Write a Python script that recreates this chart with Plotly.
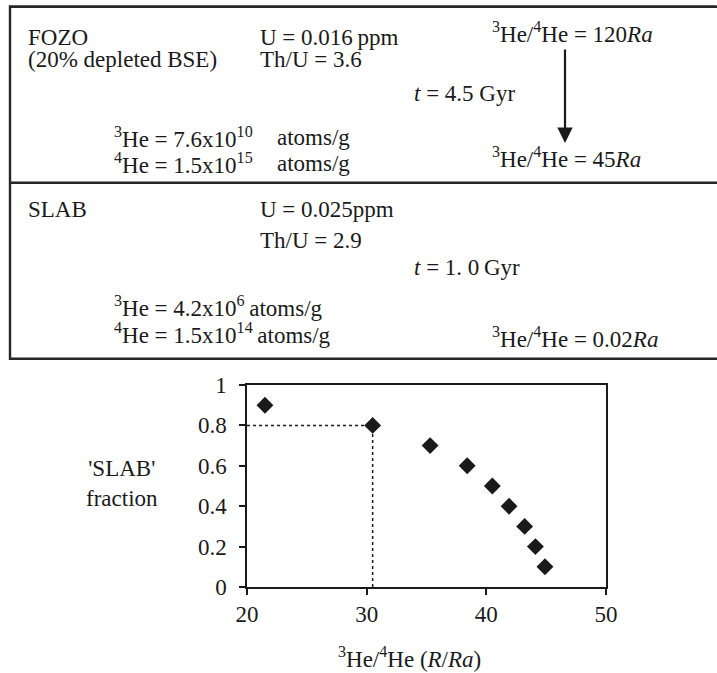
import plotly.graph_objects as go

# ---- data ----
he_ratio = [21.5, 30.5, 35.3, 38.4, 40.5, 41.9, 43.2, 44.1, 44.9]
slab_fraction = [0.9, 0.8, 0.7, 0.6, 0.5, 0.4, 0.3, 0.2, 0.1]
x_ticks = [20, 30, 40, 50]
y_ticks = [0, 0.2, 0.4, 0.6, 0.8, 1]
highlight_index = 1

fozo_labels = ["FOZO", "(20% depleted BSE)", "U = 0.016\u2009ppm", "Th/U = 3.6",
               "<i>t</i> = 4.5 Gyr", "<sup>3</sup>He = 7.6x10<sup>10</sup>",
               "<sup>4</sup>He = 1.5x10<sup>15</sup>", "atoms/g", "atoms/g",
               "<sup>3</sup>He/<sup>4</sup>He = 120<i>Ra</i>",
               "<sup>3</sup>He/<sup>4</sup>He = 45<i>Ra</i>"]
slab_labels = ["SLAB", "U = 0.025ppm", "Th/U = 2.9", "<i>t</i> = 1. 0\u2009Gyr",
               "<sup>3</sup>He = 4.2x10<sup>6</sup>\u2009atoms/g",
               "<sup>4</sup>He = 1.5x10<sup>14</sup>\u2009atoms/g",
               "<sup>3</sup>He/<sup>4</sup>He = 0.02<i>Ra</i>"]
x_title = "<sup>3</sup>He/<sup>4</sup>He (<i>R</i>/<i>Ra</i>)"
y_title = "'SLAB'<br>fraction"

# ---- layout geometry ----
W, H = 717, 673
ML, MR, MT, MB = 247, 111, 385, 86
PW, PH = W - ML - MR, H - MT - MB
FONT = "Liberation Serif, Times New Roman, serif"
INK = "#1a1a1a"
FS = 23


def px(x):
    return (x - ML) / PW


def py(y):
    return (H - MB - y) / PH


fig = go.Figure()
fig.add_trace(go.Scatter(
    x=he_ratio, y=slab_fraction, mode="markers",
    marker=dict(symbol="diamond", size=13, color=INK),
    showlegend=False, hoverinfo="skip"))

hx, hy = he_ratio[highlight_index], slab_fraction[highlight_index]
fig.add_shape(type="line", xref="x", yref="y", x0=x_ticks[0], x1=hx, y0=hy, y1=hy,
              line=dict(color=INK, width=1.5, dash="dot"), layer="below")
fig.add_shape(type="line", xref="x", yref="y", x0=hx, x1=hx, y0=y_ticks[0], y1=hy,
              line=dict(color=INK, width=1.5, dash="dot"), layer="below")

# top boxes: borders drawn as thin filled bands
BORDER = "#262626"
bands = [(9, 5.5, W + 10, 8.0),       # top
         (9, 181.5, W + 10, 184.0),   # divider
         (9, 357.5, W + 10, 360.0),   # bottom
         (8.8, 5.5, 11.2, 360.0)]     # left
for (x0, y0, x1, y1) in bands:
    fig.add_shape(type="rect", xref="paper", yref="paper",
                  x0=px(x0), y0=py(y0), x1=px(x1), y1=py(y1),
                  fillcolor=BORDER, line=dict(width=0), layer="above")

# top border also drawn as an annotation line (infolayer) for robustness
fig.add_annotation(xref="paper", yref="paper", x=px(W + 10), y=py(6.8),
                   ax=-(W + 10 - 9), ay=0, text="", showarrow=True, arrowhead=0,
                   arrowwidth=2.5, arrowcolor=BORDER, standoff=0, startstandoff=0)

positions_fozo = [(26, 38), (26, 59), (258, 38), (258, 59), (412, 93),
                  (112, 138), (112, 164), (275, 138), (275, 164), (490, 33), (490, 158)]
positions_slab = [(26, 210), (258, 210), (258, 240), (412, 267),
                  (112, 306), (112, 333), (490, 337)]

for txt, (x, y) in zip(fozo_labels + slab_labels, positions_fozo + positions_slab):
    fig.add_annotation(text=txt, xref="paper", yref="paper", x=px(x), y=py(y),
                       xanchor="left", yanchor="middle", showarrow=False,
                       font=dict(family=FONT, size=FS, color=INK))

# arrow
fig.add_annotation(xref="paper", yref="paper", x=px(565), y=py(143),
                   ax=0, ay=-95, text="", showarrow=True, arrowhead=2,
                   arrowsize=1.4, arrowwidth=2.2, arrowcolor=INK)

# axis titles
fig.add_annotation(text=x_title, xref="paper", yref="paper", x=px(409), y=py(657),
                   xanchor="center", yanchor="middle", showarrow=False,
                   font=dict(family=FONT, size=FS, color=INK))
fig.add_annotation(text=y_title, xref="paper", yref="paper", x=px(122), y=py(483),
                   xanchor="center", yanchor="middle", showarrow=False, align="center",
                   font=dict(family=FONT, size=FS, color=INK))

axis_common = dict(showline=True, linecolor=INK, linewidth=1.5, mirror=True,
                   ticks="outside", ticklen=6, tickwidth=1.5, tickcolor=INK,
                   showgrid=False, zeroline=False,
                   tickfont=dict(family=FONT, size=FS, color=INK))
fig.update_xaxes(range=[x_ticks[0], x_ticks[-1]], tickvals=x_ticks, **axis_common)
fig.update_yaxes(range=[y_ticks[0], y_ticks[-1]], tickvals=y_ticks,
                 ticklabelstandoff=8, **axis_common)

fig.update_layout(width=W, height=H, margin=dict(l=ML, r=MR, t=MT, b=MB, pad=0),
                  paper_bgcolor="white", plot_bgcolor="white",
                  font=dict(family=FONT, size=FS, color=INK))

fig.write_html("out.html", config={"displayModeBar": False},
               post_script="document.body.style.margin='0';"
                           "document.body.style.padding='0';"
                           "document.documentElement.style.overflow='hidden';")
